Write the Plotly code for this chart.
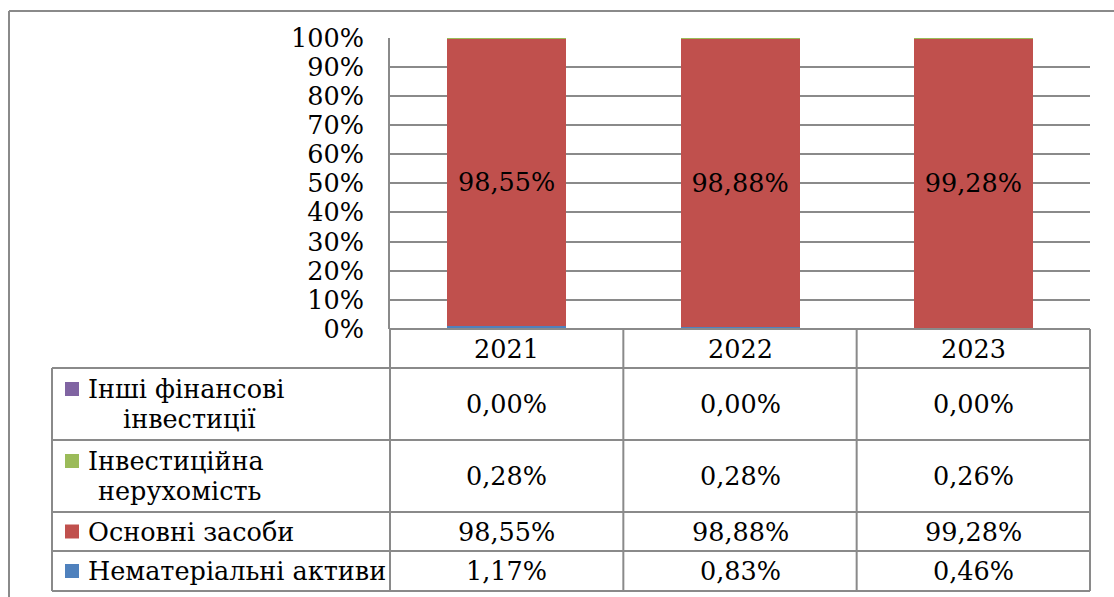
import plotly.graph_objects as go

# ---------------- data ----------------
years = ["2021", "2022", "2023"]
series_names = [
    "Нематеріальні активи",
    "Основні засоби",
    "Інвестиційна нерухомість",
    "Інші фінансові інвестиції",
]
intangible_assets = [1.17, 0.83, 0.46]
fixed_assets = [98.55, 98.88, 99.28]
investment_property = [0.28, 0.28, 0.26]
other_fin_investments = [0.00, 0.00, 0.00]
series_colors = ["#4F81BD", "#C0504D", "#9BBB59", "#8064A2"]
y_tick_values = list(range(0, 101, 10))
# label text as wrapped in the data table (same order as series_names)
table_label_lines = [
    ["Нематеріальні активи"],
    ["Основні засоби"],
    ["Інвестиційна", "нерухомість"],
    ["Інші фінансові", "інвестиції"],
]
labelled_series = "Основні засоби"

series_values = [intangible_assets, fixed_assets, investment_property, other_fin_investments]

# ---------------- layout constants (pixels) ----------------
W, H = 1114, 597
FONT = "DejaVu Serif"
FS = 25.5
LINE_COLOR = "#8a8a8a"
X_TABLE_L, X_PLOT_L, X_PLOT_R = 52, 390, 1090
Y_TOP, Y_ZERO = 37.7, 329
# table row boundaries top->bottom (header row first)
ROW_EDGES = [329, 368, 440, 512, 551, 591]


def px(x):
    return x / W


def py(y):
    return 1 - y / H


def fmt(v):
    return f"{v:.2f}".replace(".", ",") + "%"


fig = go.Figure()
for name, vals, col in zip(series_names, series_values, series_colors):
    show = name == labelled_series
    fig.add_trace(
        go.Bar(
            x=years,
            y=vals,
            name=name,
            marker=dict(color=col, line=dict(width=0)),
            text=[fmt(v) for v in vals] if show else None,
            textposition="inside" if show else "none",
            insidetextanchor="middle",
            textangle=0,
            textfont=dict(family=FONT, size=FS, color="black"),
            hoverinfo="skip",
            showlegend=False,
        )
    )

shapes = []
line = dict(color=LINE_COLOR, width=2)
# outer chart border (top and left visible)
shapes.append(dict(type="line", xref="paper", yref="paper", x0=px(9), x1=1,
                   y0=py(11), y1=py(11), line=line))
shapes.append(dict(type="line", xref="paper", yref="paper", x0=px(9), x1=px(9),
                   y0=py(11), y1=0, line=line))

# table horizontal lines
col_edges = [X_PLOT_L + i * (X_PLOT_R - X_PLOT_L) / len(years) for i in range(len(years) + 1)]
for i, y in enumerate(ROW_EDGES):
    x0 = X_PLOT_L if i == 0 else X_TABLE_L
    shapes.append(dict(type="line", xref="paper", yref="paper", x0=px(x0), x1=px(X_PLOT_R),
                       y0=py(y), y1=py(y), line=line))
# table vertical lines
for x in col_edges:
    shapes.append(dict(type="line", xref="paper", yref="paper", x0=px(x), x1=px(x),
                       y0=py(ROW_EDGES[0]), y1=py(ROW_EDGES[-1]), line=line))
shapes.append(dict(type="line", xref="paper", yref="paper", x0=px(X_TABLE_L), x1=px(X_TABLE_L),
                   y0=py(ROW_EDGES[1]), y1=py(ROW_EDGES[-1]), line=line))

annotations = []
txt = dict(family=FONT, size=FS, color="black")
# header: years (category index on the x axis)
for i, yr in enumerate(years):
    annotations.append(dict(xref="x", yref="paper", x=i, y=py((ROW_EDGES[0] + ROW_EDGES[1]) / 2),
                            text=yr, showarrow=False, font=txt, xanchor="center", yanchor="middle"))

# table body rows: top row = last series
n = len(series_names)
for r in range(n):
    s = n - 1 - r
    top, bot = ROW_EDGES[r + 1], ROW_EDGES[r + 2]
    yc = (top + bot) / 2
    lines = table_label_lines[s]
    if len(lines) == 1:
        line_ys = [yc]
    else:
        line_ys = [yc - 15, yc + 15]
    # legend key
    shapes.append(dict(type="rect", xref="paper", yref="paper", x0=px(65), x1=px(79),
                       y0=py(line_ys[0] - 7), y1=py(line_ys[0] + 7),
                       fillcolor=series_colors[s], line=dict(width=0)))
    annotations.append(dict(xref="paper", yref="paper", x=px(86), y=py(line_ys[0]),
                            text=lines[0], showarrow=False, font=txt,
                            xanchor="left", yanchor="middle"))
    if len(lines) > 1:
        centre = 189 if r == 0 else 179
        annotations.append(dict(xref="paper", yref="paper", x=px(centre), y=py(line_ys[1]),
                                text=lines[1], showarrow=False, font=txt,
                                xanchor="center", yanchor="middle"))
    for i, v in enumerate(series_values[s]):
        annotations.append(dict(xref="x", yref="paper", x=i, y=py(yc), text=fmt(v),
                                showarrow=False, font=txt, xanchor="center", yanchor="middle"))

fig.update_layout(
    template="none",
    width=W,
    height=H,
    autosize=False,
    margin=dict(l=0, r=0, t=0, b=0, pad=0, autoexpand=False),
    paper_bgcolor="white",
    plot_bgcolor="white",
    barmode="stack",
    bargap=0.49,
    showlegend=False,
    font=dict(family=FONT, size=FS, color="black"),
    xaxis=dict(
        type="category",
        automargin=False,
        domain=[px(X_PLOT_L), px(X_PLOT_R)],
        range=[-0.5, len(years) - 0.5],
        showticklabels=False,
        showgrid=False,
        zeroline=False,
        showline=False,
        ticks="",
        fixedrange=True,
    ),
    yaxis=dict(
        automargin=False,
        domain=[py(Y_ZERO), py(Y_TOP)],
        range=[0, 100],
        tickvals=y_tick_values,
        ticktext=[f"{v}%" for v in y_tick_values],
        tickfont=dict(family=FONT, size=FS, color="black"),
        ticks="",
        ticklabelstandoff=19,
        showgrid=True,
        gridcolor=LINE_COLOR,
        gridwidth=2,
        zeroline=False,
        showline=True,
        linecolor=LINE_COLOR,
        linewidth=2,
        fixedrange=True,
    ),
    shapes=shapes,
    annotations=annotations,
)

fig.write_html(
    "out.html",
    config={"displayModeBar": False},
    post_script="document.body.style.margin='0';document.body.style.padding='0';",
)
